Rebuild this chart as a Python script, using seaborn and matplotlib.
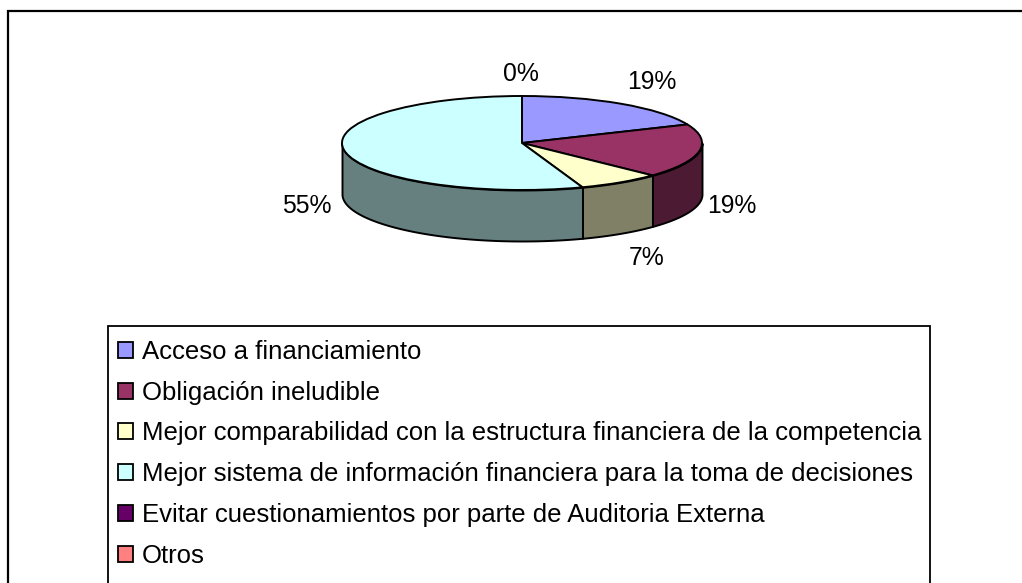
import numpy as np
import seaborn as sns
from matplotlib import pyplot as plt
from matplotlib.patches import Patch, Rectangle

categorias = ["Acceso a financiamiento", "Obligación ineludible",
              "Mejor comparabilidad con la estructura financiera de la competencia",
              "Mejor sistema de información financiera para la toma de decisiones",
              "Evitar cuestionamientos por parte de Auditoria Externa", "Otros"]
valores = [18.55, 18.55, 7.45, 55.45, 0.0, 0.0]
colores = ["#9999FF", "#993366", "#FFFFCC", "#CCFFFF", "#660066", "#FF8080"]

W, H = 1022, 583
sns.set_theme(style="white")
plt.rcParams['font.family'] = ['Liberation Sans', 'DejaVu Sans']
fig = plt.figure(figsize=(W / 100, H / 100), dpi=100)

# marco exterior, en pixeles (se sale por la derecha y por abajo)
fig.add_artist(Rectangle((8 / W, -0.1), 1.1, 1.1 - 11 / H, transform=fig.transFigure,
                         fill=False, ec="black", lw=1.6))

# la torta: radio 1 en el eje, el eje se aplasta para dar la perspectiva
cx, cy, rx, ry = 522, 143, 180, 47
ax = fig.add_axes([(cx - rx) / W, 1 - (cy + ry) / H, 2 * rx / W, 2 * ry / H])
paleta = sns.color_palette(colores)
ax.pie(valores, colors=paleta, startangle=90, counterclock=False, radius=1,
       wedgeprops=dict(edgecolor="black", linewidth=1.4, zorder=3, clip_on=False))
ax.set_aspect("auto")
ax.set_xlim(-1, 1)
ax.set_ylim(-1, 1)
ax.axis("off")

# pared lateral, solo lo que mira hacia el frente
prof = 51 / ry
ini = 90.0
for v, c in zip(valores, paleta):
    fin = ini - v * 3.6
    tt = np.radians(np.linspace(ini, fin, 200))
    tt = tt[np.sin(tt) <= 0]
    if len(tt) > 1:
        x, y = np.cos(tt), np.sin(tt)
        osc = tuple(0.5 * k for k in c)
        ax.fill_between(x, y, y - prof, color=osc, ec="black", lw=1.4, zorder=1, clip_on=False)
    ini = fin

# etiquetas de porcentaje
etq = [(652, 82), (732, 206), (647, 258), (307, 206)]
for (px, py), v in zip(etq, valores[:4]):
    fig.text(px / W, 1 - py / H, f"{v:.0f}%", ha="center", va="center", fontsize=17.8, color="black")
fig.text(521 / W, 1 - 74 / H, f"{valores[4]:.0f}%", ha="center", va="center", fontsize=17.8, color="black")

# caja de la leyenda
fig.add_artist(Rectangle((108 / W, -0.1), 822 / W, 0.1 + 1 - 326 / H, transform=fig.transFigure,
                         fill=False, ec="black", lw=1.3))
handles = [Patch(fc=c, ec="black", lw=1.3) for c in paleta]
leg = fig.legend(handles, categorias, loc="upper left", bbox_to_anchor=(118 / W, 1 - 340 / H),
                 bbox_transform=fig.transFigure, fontsize=18.55, frameon=False, labelcolor="black",
                 handlelength=0.58, handleheight=0.58, handletextpad=0.35, labelspacing=0.65,
                 borderaxespad=0, borderpad=0)

fig.savefig("out.png", dpi=100)
